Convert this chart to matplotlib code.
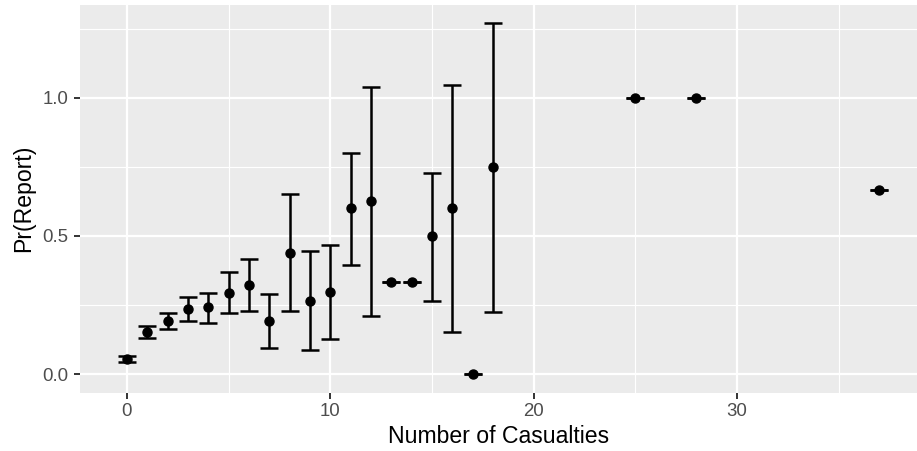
import numpy as np
import pandas as pd
import matplotlib
matplotlib.use('Agg')
import matplotlib.pyplot as plt

# proportion reported by number of casualties, with interval bounds
casualties = [0, 1, 2, 3, 4, 5, 6, 7, 8, 9, 10, 11, 12, 13, 14, 15, 16, 17, 18, 25, 28, 37]
pr_report = [0.054, 0.154, 0.193, 0.236, 0.242, 0.294, 0.323, 0.193, 0.440, 0.266, 0.298,
             0.600, 0.625, 0.333, 0.333, 0.500, 0.600, 0.0, 0.750, 1.0, 1.0, 0.667]
ci_low = [0.043, 0.132, 0.164, 0.194, 0.187, 0.220, 0.229, 0.094, 0.229, 0.088, 0.126,
          0.396, 0.209, 0.333, 0.333, 0.266, 0.153, 0.0, 0.226, 1.0, 1.0, 0.667]
ci_high = [0.065, 0.176, 0.220, 0.278, 0.295, 0.368, 0.415, 0.291, 0.653, 0.445, 0.469,
           0.801, 1.038, 0.333, 0.333, 0.729, 1.044, 0.0, 1.271, 1.0, 1.0, 0.667]

x_ticks = [0, 10, 20, 30]
y_ticks = [0.0, 0.5, 1.0]
y_ticklabels = ['0.0', '0.5', '1.0']

df = pd.DataFrame({'n': casualties, 'p': pr_report, 'lo': ci_low, 'hi': ci_high})

plt.rcParams['font.family'] = ['Liberation Sans', 'DejaVu Sans']

fig = plt.figure(figsize=(9.17, 4.51), dpi=100)
ax = fig.add_axes([80 / 917, 1 - 392.5 / 451, 1 - 80 / 917, (392.5 - 5) / 451])
ax.set_facecolor('#EBEBEB')

# grid like theme_grey
for v in [5, 15, 25, 35]:
    ax.axvline(v, color='white', lw=0.8, zorder=0)
for v in [0.25, 0.75, 1.25]:
    ax.axhline(v, color='white', lw=0.8, zorder=0)
for v in x_ticks:
    ax.axvline(v, color='white', lw=1.6, zorder=0)
for v in y_ticks:
    ax.axhline(v, color='white', lw=1.6, zorder=0)

yerr = np.array([df['p'] - df['lo'], df['hi'] - df['p']])
ax.errorbar(df['n'], df['p'], yerr=yerr, fmt='o', color='black', ms=6.5,
            elinewidth=1.8, capsize=6.5, capthick=1.8, zorder=3)

ax.set_xlim(-2.31, 38.86)
ax.set_ylim(-0.066, 1.335)
ax.set_xticks(x_ticks)
ax.set_yticks(y_ticks)
ax.set_yticklabels(y_ticklabels)
ax.tick_params(axis='both', colors='#333333', length=4.3, width=1.4,
               labelsize=13.4, labelcolor='#4D4D4D', pad=3)
ax.tick_params(axis='y', pad=4)
for s in ax.spines.values():
    s.set_visible(False)

ax.set_xlabel('Number of Casualties', fontsize=16.6, labelpad=4)
ax.set_ylabel('Pr(Report)', fontsize=16.6, labelpad=5)

fig.savefig('out.png', dpi=100)
